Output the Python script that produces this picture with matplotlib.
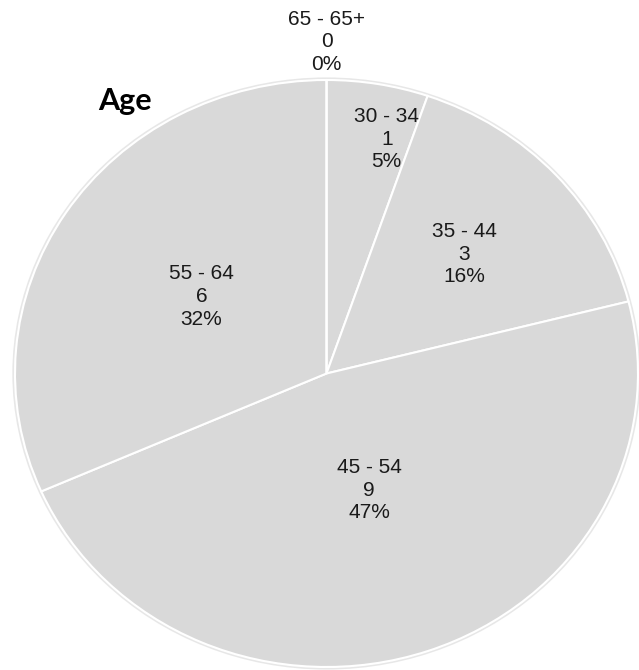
import matplotlib
matplotlib.use("Agg")
import matplotlib.pyplot as plt
from matplotlib.patches import Ellipse
import numpy as np

categories = ["30 - 34", "35 - 44", "45 - 54", "55 - 64", "65 - 65+"]
counts = [1, 3, 9, 6, 0]
title = "Age"

# layout: radial distance of each label (in pie radius units)
label_r = [0.81, 0.60, 0.42, 0.48, 1.13]

W, H = 639, 670
fig = plt.figure(figsize=(W / 100, H / 100), dpi=100)
cx, cy = 326.5, 670 - 373.5
rx, ry = 311.5, 293.5
L = 1.05
ax = fig.add_axes([(cx - rx * L) / W, (cy - ry * L) / H, 2 * rx * L / W, 2 * ry * L / H])

# faint outer shadow
ax.add_patch(Ellipse((0, 0), 2.01, 2.01, facecolor="none", edgecolor="#d0d0d0", lw=1.6, alpha=0.5, zorder=0))

wedges, _ = ax.pie(counts, startangle=90, counterclock=False, colors=["#d9d9d9"] * len(counts),
                   wedgeprops=dict(edgecolor="white", linewidth=1.5))
ax.set_aspect("auto")
ax.set_xlim(-L, L)
ax.set_ylim(-L, L)
ax.axis("off")

total = sum(counts)
for w, cat, n, r in zip(wedges, categories, counts, label_r):
    th = np.deg2rad((w.theta1 + w.theta2) / 2)
    pct = round(100 * n / total)
    x, y = r * np.cos(th), r * np.sin(th)
    if n == 1:
        x += 0.06
    ax.text(x, y, f"{cat}\n{n}\n{pct}%", ha="center", va="center",
            fontsize=15, family="Liberation Sans", color="#1a1a1a", linespacing=1.25, clip_on=False)

fig.text(125 / W, 1 - 101 / H, title, ha="center", va="center", fontsize=22, fontweight="bold",
         family="Lato", color="black")

fig.savefig("out.png", dpi=100, facecolor="white")
